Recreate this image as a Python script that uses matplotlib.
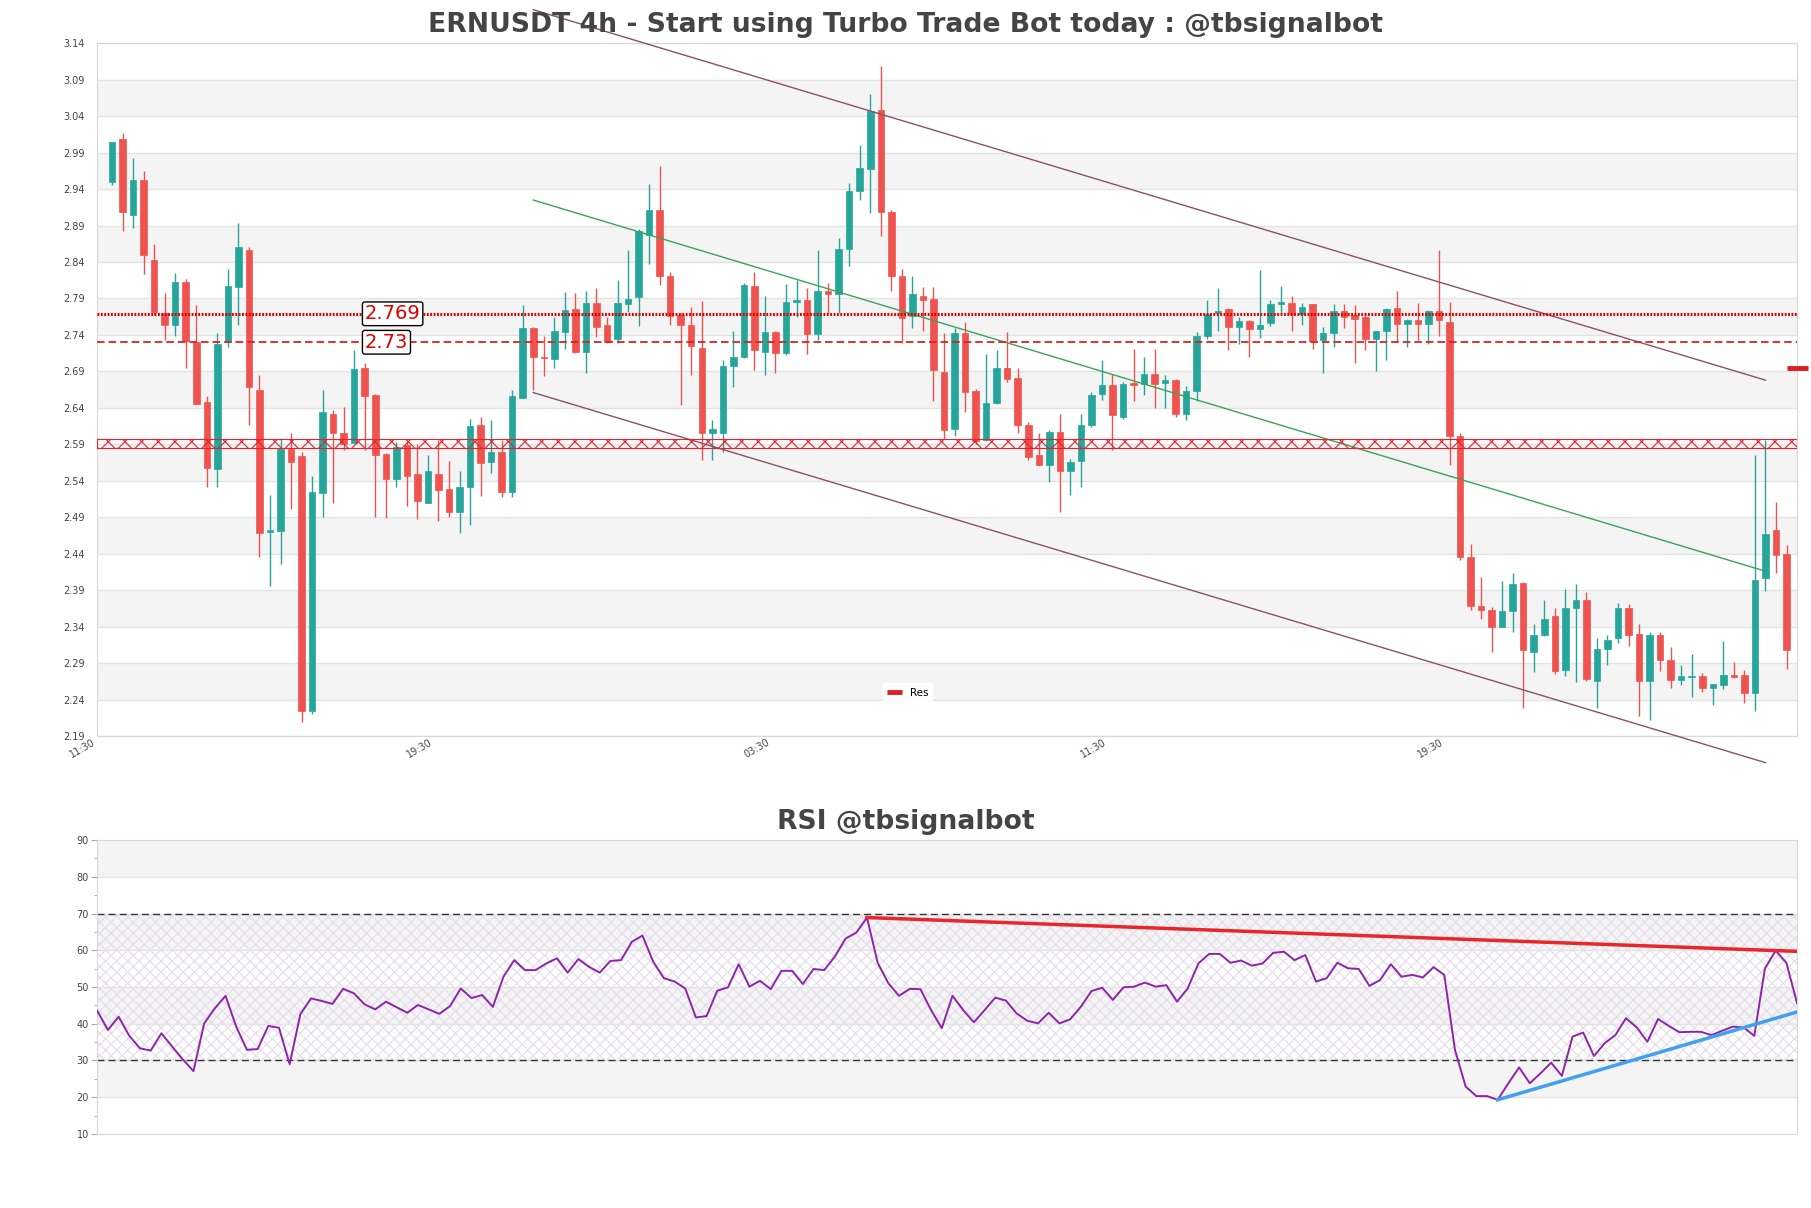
import numpy as np
import matplotlib
matplotlib.use('Agg')
import matplotlib.pyplot as plt
from matplotlib.ticker import MultipleLocator

# свечи ERNUSDT 4h (open, high, low, close)
opens = [2.950, 3.009, 2.905, 2.953, 2.843, 2.770, 2.753, 2.813, 2.730, 2.648,
         2.556, 2.730, 2.806, 2.857, 2.665, 2.470, 2.471, 2.583, 2.574, 2.224,
         2.523, 2.632, 2.606, 2.592, 2.694, 2.657, 2.577, 2.542, 2.589, 2.549,
         2.510, 2.550, 2.529, 2.497, 2.532, 2.616, 2.566, 2.580, 2.525, 2.654,
         2.750, 2.710, 2.707, 2.744, 2.775, 2.717, 2.784, 2.754, 2.735, 2.783,
         2.792, 2.877, 2.911, 2.821, 2.767, 2.754, 2.722, 2.605, 2.606, 2.698,
         2.710, 2.807, 2.717, 2.744, 2.715, 2.785, 2.788, 2.741, 2.800, 2.796,
         2.858, 2.937, 2.967, 3.049, 2.908, 2.821, 2.766, 2.794, 2.789, 2.689,
         2.611, 2.743, 2.663, 2.596, 2.646, 2.695, 2.681, 2.617, 2.575, 2.562,
         2.607, 2.554, 2.567, 2.617, 2.659, 2.671, 2.627, 2.674, 2.673, 2.687,
         2.674, 2.678, 2.632, 2.663, 2.739, 2.770, 2.775, 2.751, 2.759, 2.748,
         2.756, 2.783, 2.784, 2.769, 2.782, 2.733, 2.742, 2.773, 2.767, 2.765,
         2.734, 2.745, 2.777, 2.755, 2.761, 2.755, 2.773, 2.758, 2.602, 2.435,
         2.368, 2.363, 2.339, 2.361, 2.400, 2.305, 2.328, 2.354, 2.281, 2.366,
         2.376, 2.266, 2.310, 2.324, 2.365, 2.330, 2.265, 2.328, 2.294, 2.267,
         2.271, 2.273, 2.256, 2.260, 2.274, 2.274, 2.249, 2.407, 2.473, 2.440]
highs = [3.005, 3.017, 2.983, 2.965, 2.865, 2.797, 2.825, 2.817, 2.781, 2.656,
         2.742, 2.831, 2.894, 2.860, 2.685, 2.521, 2.599, 2.606, 2.580, 2.546,
         2.665, 2.637, 2.641, 2.719, 2.702, 2.659, 2.578, 2.593, 2.593, 2.591,
         2.576, 2.596, 2.567, 2.553, 2.625, 2.627, 2.623, 2.596, 2.664, 2.781,
         2.751, 2.738, 2.765, 2.799, 2.797, 2.800, 2.805, 2.765, 2.815, 2.857,
         2.885, 2.947, 2.971, 2.827, 2.770, 2.779, 2.786, 2.623, 2.706, 2.745,
         2.811, 2.827, 2.793, 2.745, 2.810, 2.816, 2.804, 2.857, 2.811, 2.873,
         2.948, 3.001, 3.071, 3.109, 2.912, 2.831, 2.821, 2.806, 2.806, 2.742,
         2.749, 2.758, 2.666, 2.714, 2.720, 2.744, 2.694, 2.621, 2.605, 2.610,
         2.632, 2.570, 2.632, 2.662, 2.706, 2.687, 2.675, 2.721, 2.710, 2.721,
         2.685, 2.679, 2.670, 2.744, 2.788, 2.805, 2.777, 2.765, 2.761, 2.829,
         2.788, 2.807, 2.793, 2.784, 2.783, 2.751, 2.782, 2.782, 2.781, 2.770,
         2.746, 2.777, 2.800, 2.762, 2.784, 2.774, 2.857, 2.785, 2.606, 2.454,
         2.408, 2.367, 2.402, 2.414, 2.401, 2.343, 2.376, 2.366, 2.391, 2.399,
         2.387, 2.324, 2.328, 2.372, 2.371, 2.343, 2.333, 2.333, 2.312, 2.287,
         2.303, 2.276, 2.262, 2.321, 2.292, 2.281, 2.576, 2.596, 2.511, 2.452]
lows = [2.945, 2.883, 2.887, 2.824, 2.767, 2.733, 2.739, 2.695, 2.645, 2.531,
        2.531, 2.723, 2.753, 2.617, 2.436, 2.396, 2.426, 2.502, 2.209, 2.220,
        2.490, 2.509, 2.582, 2.592, 2.582, 2.490, 2.489, 2.531, 2.505, 2.487,
        2.510, 2.485, 2.490, 2.468, 2.479, 2.519, 2.551, 2.518, 2.518, 2.654,
        2.665, 2.684, 2.695, 2.721, 2.715, 2.688, 2.737, 2.729, 2.729, 2.772,
        2.752, 2.837, 2.809, 2.754, 2.644, 2.685, 2.568, 2.568, 2.580, 2.669,
        2.708, 2.692, 2.685, 2.688, 2.713, 2.764, 2.714, 2.733, 2.770, 2.770,
        2.834, 2.925, 2.907, 2.875, 2.800, 2.729, 2.749, 2.745, 2.649, 2.598,
        2.602, 2.634, 2.591, 2.594, 2.645, 2.675, 2.605, 2.569, 2.561, 2.538,
        2.497, 2.520, 2.531, 2.614, 2.651, 2.582, 2.625, 2.650, 2.657, 2.640,
        2.640, 2.628, 2.624, 2.650, 2.734, 2.746, 2.720, 2.727, 2.710, 2.736,
        2.752, 2.769, 2.746, 2.753, 2.721, 2.688, 2.723, 2.749, 2.702, 2.720,
        2.691, 2.706, 2.730, 2.724, 2.733, 2.728, 2.739, 2.561, 2.431, 2.363,
        2.351, 2.305, 2.339, 2.333, 2.229, 2.278, 2.327, 2.275, 2.272, 2.264,
        2.266, 2.228, 2.288, 2.317, 2.313, 2.217, 2.212, 2.279, 2.256, 2.260,
        2.244, 2.250, 2.233, 2.255, 2.270, 2.235, 2.225, 2.389, 2.413, 2.282]
closes = [3.004, 2.908, 2.953, 2.849, 2.771, 2.753, 2.813, 2.732, 2.645, 2.557,
          2.728, 2.807, 2.861, 2.669, 2.468, 2.473, 2.584, 2.566, 2.224, 2.524,
          2.635, 2.605, 2.590, 2.693, 2.656, 2.576, 2.542, 2.586, 2.547, 2.512,
          2.554, 2.527, 2.497, 2.532, 2.615, 2.565, 2.580, 2.525, 2.656, 2.750,
          2.710, 2.708, 2.745, 2.774, 2.717, 2.784, 2.751, 2.731, 2.784, 2.789,
          2.882, 2.911, 2.821, 2.766, 2.754, 2.725, 2.605, 2.611, 2.698, 2.710,
          2.808, 2.720, 2.744, 2.715, 2.785, 2.788, 2.741, 2.800, 2.796, 2.858,
          2.938, 2.969, 3.047, 2.909, 2.821, 2.763, 2.796, 2.788, 2.692, 2.609,
          2.742, 2.662, 2.595, 2.647, 2.695, 2.680, 2.616, 2.573, 2.562, 2.607,
          2.553, 2.566, 2.617, 2.658, 2.671, 2.630, 2.673, 2.672, 2.686, 2.673,
          2.678, 2.632, 2.663, 2.739, 2.769, 2.773, 2.751, 2.759, 2.748, 2.753,
          2.782, 2.785, 2.769, 2.779, 2.732, 2.742, 2.773, 2.764, 2.762, 2.734,
          2.745, 2.775, 2.755, 2.761, 2.755, 2.773, 2.761, 2.602, 2.435, 2.368,
          2.363, 2.339, 2.361, 2.398, 2.308, 2.328, 2.351, 2.279, 2.366, 2.376,
          2.268, 2.310, 2.322, 2.365, 2.329, 2.265, 2.328, 2.294, 2.267, 2.272,
          2.272, 2.256, 2.261, 2.274, 2.271, 2.249, 2.404, 2.467, 2.438, 2.308]

rsi = [43.5, 38.3, 41.9, 36.7, 33.3, 32.7, 37.4, 33.8, 30.3, 27.1,
       40.1, 44.2, 47.6, 39.2, 32.9, 33.1, 39.4, 38.9, 29.0, 42.6,
       46.9, 46.2, 45.4, 49.5, 48.3, 45.3, 43.9, 46.0, 44.5, 43.0,
       45.1, 43.9, 42.7, 44.8, 49.6, 47.0, 47.8, 44.6, 52.8, 57.3,
       54.6, 54.6, 56.4, 57.8, 53.9, 57.6, 55.5, 53.9, 57.1, 57.3,
       62.3, 64.0, 56.9, 52.4, 51.5, 49.6, 41.7, 42.1, 49.0, 49.9,
       56.2, 50.1, 51.7, 49.4, 54.4, 54.4, 50.8, 54.9, 54.6, 58.3,
       63.2, 64.8, 68.9, 56.6, 51.0, 47.6, 49.5, 49.4, 43.7, 38.8,
       47.6, 43.7, 40.4, 43.7, 47.1, 46.3, 42.8, 40.8, 40.1, 43.0,
       40.1, 41.2, 44.6, 48.9, 49.8, 46.5, 49.9, 50.1, 51.2, 50.1,
       50.5, 46.0, 49.6, 56.4, 59.0, 59.0, 56.6, 57.2, 55.8, 56.4,
       59.3, 59.6, 57.3, 58.7, 51.5, 52.4, 56.6, 55.1, 54.9, 50.3,
       51.9, 56.2, 52.8, 53.3, 52.6, 55.4, 53.3, 32.9, 22.9, 20.3,
       20.3, 19.3, 23.8, 28.1, 23.8, 26.5, 29.4, 25.8, 36.5, 37.6,
       31.2, 34.7, 36.9, 41.5, 39.0, 35.1, 41.3, 39.4, 37.7, 37.8,
       37.8, 36.9, 38.1, 39.2, 39.0, 36.7, 55.1, 59.9, 56.6, 45.6]

time_labels = ['11:30', '19:30', '03:30', '11:30', '19:30']

# уровни
level_dotted = 2.769
level_dashed = 2.73
zone = [2.5855, 2.598]
res_level = 2.695

# канал
channel_x = [40, 157]
channel_top = [3.186, 2.678]
channel_mid = [2.925, 2.416]
channel_bot = [2.661, 2.1535]

# линии на RSI
rsi_res_x = [72, 159]
rsi_res_y = [68.9, 59.7]
rsi_sup_x = [131, 159]
rsi_sup_y = [19.3, 43.2]

GREEN = '#26a69a'
RED = '#ef5350'
BAND = '#f4f4f4'
GRID = '#e3e3e3'
SPINE = '#d9d9d9'
TXT = '#444444'

plt.rcParams['hatch.linewidth'] = 0.8

fig = plt.figure(figsize=(18.11, 12.08), dpi=100)
ax = fig.add_axes([0.0537, 0.3907, 0.9386, 0.5735])
ax2 = fig.add_axes([0.0537, 0.0613, 0.9386, 0.2433])

# ---- график цены ----
o = np.array(opens)
c = np.array(closes)
x = np.arange(len(o))
up = c >= o
colors = np.where(up, GREEN, RED)
ax.vlines(x, lows, highs, colors=colors, lw=1, zorder=2)
body = c - o
body = np.where(np.abs(body) < 0.002, 0.002 * np.where(up, 1, -1), body)
ax.bar(x, body, bottom=o, width=0.62, color=colors, edgecolor=colors, lw=0.5, zorder=2)

yt = np.round(np.arange(2.19, 3.145, 0.05), 2)
for k in range(1, len(yt) - 1, 2):
    ax.axhspan(yt[k], yt[k + 1], color=BAND, lw=0, zorder=0)
ax.set_ylim(yt[0], yt[-1])
ax.set_xlim(-1, len(o))
ax.set_yticks(yt)
ax.set_yticklabels(['%.2f' % v for v in yt])
ax.yaxis.grid(True, color=GRID, lw=1)
ax.set_axisbelow(True)
ax.tick_params(axis='y', length=0, pad=9, labelsize=7, labelcolor=TXT)
ax.set_xticks(np.arange(len(time_labels)) * 32 - 1.4)
ax.set_xticklabels(time_labels, rotation=30, ha='right')
ax.tick_params(axis='x', length=0, pad=1, labelsize=7, labelcolor=TXT)
for s in ax.spines.values():
    s.set_color(SPINE)

# канал
ax.plot(channel_x, channel_top, color='#8c5068', lw=1, zorder=3, clip_on=False)
ax.plot(channel_x, channel_bot, color='#8c5068', lw=1, zorder=3, clip_on=False)
ax.plot(channel_x, channel_mid, color='#3aa35a', lw=1, zorder=3)

# уровни
ax.axhline(level_dotted, color='#e00000', lw=2.2, ls=(0, (0.6, 0.5)), zorder=4)
ax.axhline(level_dashed, color='#e02020', lw=1.3, ls=(0, (4.2, 2.2)), zorder=4)
ax.axhspan(zone[0], zone[1], facecolor='none', edgecolor='#e8202a', hatch='xx', lw=0.8, zorder=4)
for lv, t in [(level_dotted, '2.769'), (level_dashed, '2.73')]:
    ax.text(24, lv, t, color='#e00000', fontsize=14, va='center', ha='left', zorder=6,
            bbox=dict(boxstyle='round,pad=0.12', fc='white', ec='black', lw=1))
ax.plot([len(o) - 1, len(o) + 1], [res_level, res_level], color='#dd1c24', lw=3.5,
        solid_capstyle='butt', clip_on=False, zorder=5, label='Res')
ax.legend(loc='lower center', bbox_to_anchor=(0.477, 0.0495), borderaxespad=0,
          fontsize=7.5, frameon=True, facecolor='white', edgecolor='none',
          framealpha=0.9, handlelength=1.4)

fig.text(0.5, 0.9738, 'ERNUSDT 4h - Start using Turbo Trade Bot today : @tbsignalbot',
         ha='center', va='baseline', fontsize=19.2, fontweight='bold', color=TXT)

# ---- RSI ----
r = np.array(rsi)
xr = np.arange(len(r))
rt = np.arange(10, 91, 10)
for k in range(1, len(rt) - 1, 2):
    ax2.axhspan(rt[k], rt[k + 1], color=BAND, lw=0, zorder=0)
ax2.fill_between([0, len(r) - 1], 30, 70, facecolor='none', edgecolor='#e4dcea',
                 hatch='xxx', lw=0, zorder=0.5)
ax2.axhline(70, color='#333333', lw=1, ls=(0, (5, 3)), zorder=2)
ax2.axhline(30, color='#333333', lw=1, ls=(0, (5, 3)), zorder=2)
ax2.plot(xr, r, color='#8e24aa', lw=1.4, zorder=3)
ax2.plot(rsi_res_x, rsi_res_y, color='#e8262b', lw=2.5, zorder=4)
ax2.plot(rsi_sup_x, rsi_sup_y, color='#42a0f0', lw=2.5, zorder=4)
ax2.set_xlim(0, len(r) - 1)
ax2.set_ylim(10, 90)
ax2.set_yticks(rt)
ax2.yaxis.set_minor_locator(MultipleLocator(5))
ax2.set_xticks([])
ax2.yaxis.grid(True, color=GRID, lw=1)
ax2.set_axisbelow(True)
ax2.tick_params(axis='y', which='major', length=4, color='#aaaaaa', pad=2, labelsize=7, labelcolor=TXT)
ax2.tick_params(axis='y', which='minor', length=2.5, color='#aaaaaa')
for s in ax2.spines.values():
    s.set_color(SPINE)

fig.text(0.5, 0.3135, 'RSI @tbsignalbot', ha='center', va='baseline',
         fontsize=19.2, fontweight='bold', color=TXT)

fig.savefig('out.png', dpi=100)
